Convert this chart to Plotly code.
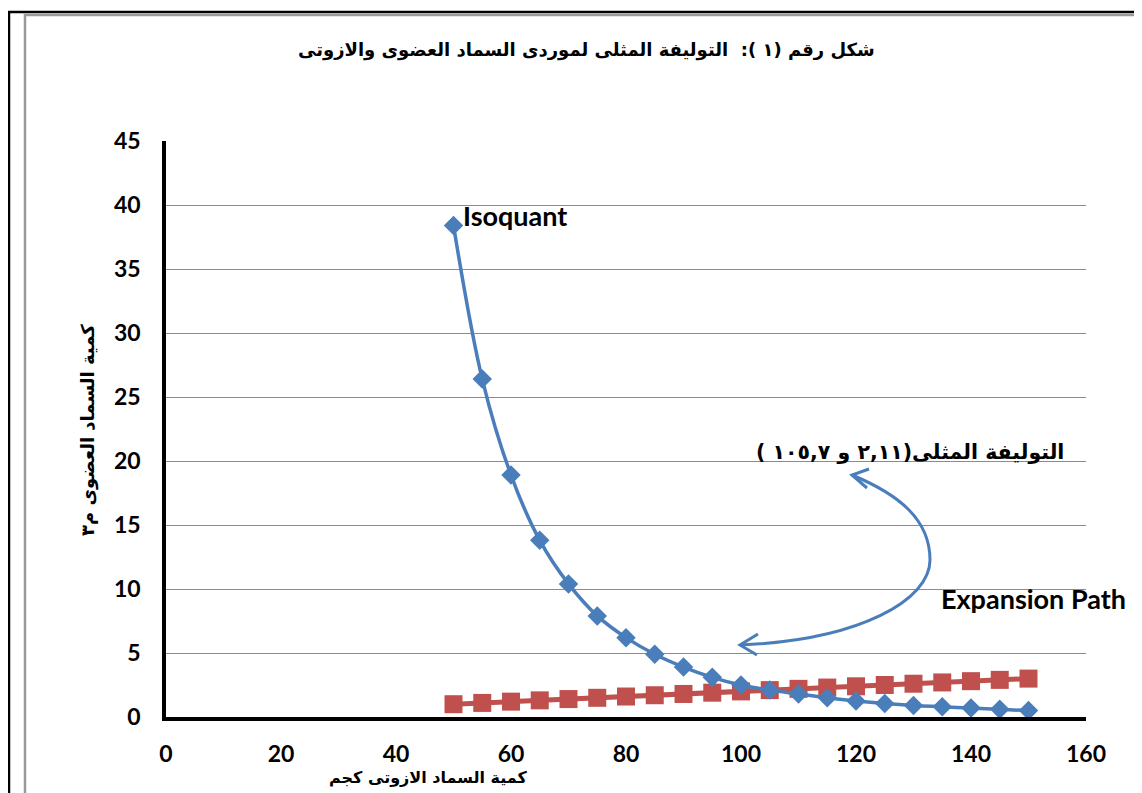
import plotly.graph_objects as go

# Data
x_vals = [50, 55, 60, 65, 70, 75, 80, 85, 90, 95, 100, 105, 110, 115, 120, 125, 130, 135, 140, 145, 150]
isoquant = [38.4, 26.4, 18.9, 13.8, 10.4, 7.9, 6.2, 4.9, 3.9, 3.1, 2.5, 2.1, 1.8, 1.5, 1.25, 1.05, 0.9, 0.8, 0.7, 0.6, 0.5]
expansion = [1.0, 1.1, 1.2, 1.3, 1.4, 1.5, 1.6, 1.7, 1.8, 1.9, 2.0, 2.1, 2.2, 2.3, 2.4, 2.5, 2.6, 2.7, 2.8, 2.9, 3.0]

title_text = "شكل رقم (١ ):  التوليفة المثلى لموردى السماد العضوى والازوتى"
y_title = "كمية السماد العضوى م٣"
x_title = "كمية السماد الازوتى كجم"
optimum_text = "التوليفة المثلى(٢,١١ و ١٠٥,٧ )"

BLUE = "#4A7EBB"
RED = "#C0504D"
AR_FONT = "DejaVu Sans"
LAT_FONT = "Lato"

fig = go.Figure()
fig.add_trace(go.Scatter(
    x=x_vals, y=expansion, mode="lines+markers",
    line=dict(color=RED, width=5),
    marker=dict(symbol="square", size=18, color=RED),
    showlegend=False))
fig.add_trace(go.Scatter(
    x=x_vals, y=isoquant, mode="lines+markers",
    line=dict(color=BLUE, width=3.5, shape="spline", smoothing=1),
    marker=dict(symbol="diamond", size=15, color=BLUE),
    showlegend=False))

OFF = 8  # page body margin
L, R, T, B = 166, 1086, 141, 717   # plot area in page pixels
W, H = 1142 - OFF, 793 - OFF
pw, ph = R - L, B - T


def px(xp):
    return (xp - L) / pw


def py(yp):
    return (B - yp) / ph


def dx(xp):
    return (xp - L) / pw * 160


def dy(yp):
    return (B - yp) / ph * 45


def pt(a, b):
    return f"{dx(a):.3f},{dy(b):.3f}"


curve = (f"M {pt(740,645)} C {pt(860,640)} {pt(930,600)} {pt(930,560)} "
         f"C {pt(930,520)} {pt(900,495)} {pt(852,475)}")
head1 = f"M {pt(758,634)} L {pt(740,645)} L {pt(757,655)}"
head2 = f"M {pt(869,469)} L {pt(852,475)} L {pt(867,488)}"

shapes = [
    dict(type="path", path=curve, xref="x", yref="y", line=dict(color=BLUE, width=3)),
    dict(type="path", path=head1, xref="x", yref="y", line=dict(color=BLUE, width=3)),
    dict(type="path", path=head2, xref="x", yref="y", line=dict(color=BLUE, width=3)),
    dict(type="rect", xref="paper", yref="paper", x0=px(9), x1=px(1160), y0=py(820), y1=py(12),
         line=dict(color="black", width=2.5), layer="below"),
    dict(type="rect", xref="paper", yref="paper", x0=px(25), x1=px(1137), y0=py(820), y1=py(15),
         line=dict(color="#9a9a9a", width=2.5), layer="below"),
]

annotations = [
    dict(text=title_text, xref="paper", yref="paper", x=px(586), y=py(50), showarrow=False,
         font=dict(family=AR_FONT, size=18, color="black", weight="bold"), xanchor="center", yanchor="middle"),
    dict(text=y_title, xref="paper", yref="paper", x=px(88), y=py(430), showarrow=False, textangle=-90,
         font=dict(family=AR_FONT, size=18, color="black", weight="bold"), xanchor="center", yanchor="middle"),
    dict(text=x_title, xref="paper", yref="paper", x=px(428), y=py(777), showarrow=False,
         font=dict(family=AR_FONT, size=16, color="black", weight="bold"), xanchor="center", yanchor="middle"),
    dict(text="Isoquant", xref="x", yref="y", x=dx(461), y=dy(215), showarrow=False,
         font=dict(family=LAT_FONT, size=27, color="black", weight="bold"), xanchor="left", yanchor="middle"),
    dict(text="Expansion Path", xref="x", yref="y", x=dx(939), y=dy(598), showarrow=False,
         font=dict(family=LAT_FONT, size=27, color="black", weight="bold"), xanchor="left", yanchor="middle"),
    dict(text=optimum_text, xref="x", yref="y", x=dx(1066), y=dy(452), showarrow=False,
         font=dict(family=AR_FONT, size=20.5, color="black", weight="bold"), xanchor="right", yanchor="middle"),
]

tickfont = dict(family=LAT_FONT, size=23, color="black", weight="bold")

fig.update_layout(
    width=W, height=H,
    margin=dict(l=L - OFF, r=W - (R - OFF), t=T - OFF, b=H - (B - OFF), pad=0),
    paper_bgcolor="white", plot_bgcolor="white",
    shapes=shapes, annotations=annotations,
    xaxis=dict(range=[0, 160], tick0=0, dtick=20, showgrid=False, zeroline=False,
               showline=True, linecolor="black", linewidth=3.5, ticks="",
               tickfont=tickfont, ticklabelstandoff=14),
    yaxis=dict(range=[0, 45], tick0=0, dtick=5, showgrid=True, gridcolor="#8c8c8c", gridwidth=1,
               zeroline=False, showline=True, linecolor="black", linewidth=3.5, ticks="",
               tickfont=tickfont, ticklabelstandoff=17),
)

fig.write_html("out.html")
